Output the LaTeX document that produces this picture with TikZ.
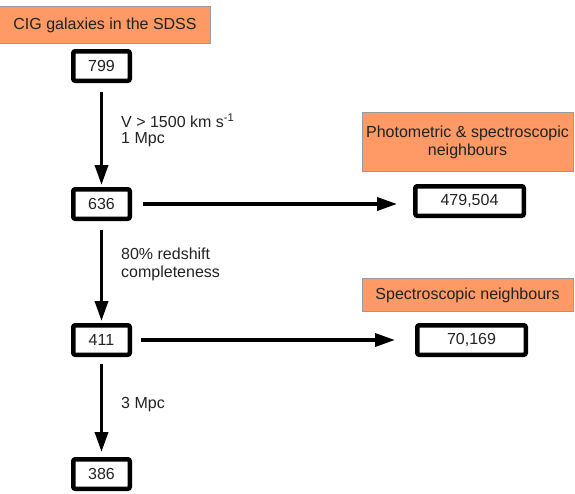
\documentclass[tikz,border=0pt]{standalone}
\usepackage{fontspec}
\setmainfont{Liberation Sans}
\usetikzlibrary{arrows.meta,positioning}
\definecolor{CigOrange}{HTML}{FF9966}
\definecolor{CigGray}{HTML}{9A9A9A}
\definecolor{CigInk}{HTML}{222222}

\begin{document}
\begin{tikzpicture}[x=1pt,y=-1pt,every node/.style={font=\fontsize{16}{18}\selectfont,text=CigInk}]
    \tikzset{count/.style={draw,rounded corners=2pt,line width=4.5pt,minimum width=56.5pt,
      minimum height=29.5pt,inner sep=0pt},
      header/.style={draw=CigGray,fill=CigOrange,line width=1pt,minimum width=211pt,align=center,inner sep=0pt},
      flow/.style={-{Triangle[length=20pt,width=13pt]},line width=3.5pt,shorten <=9pt},
      note/.style={anchor=west,align=left,inner sep=0pt}}
    \useasboundingbox (0,0) rectangle (575,493);
    \node[header,minimum height=37pt] (title) at (105,25) {CIG galaxies in the SDSS};
    \node[count,below=5pt of title,xshift=-3.5pt] (b799) {799};
    \node[count,below=104pt of b799] (b636) {636};
    \node[count,below=102pt of b636] (b411) {411};
    \node[count,below=100pt of b411] (b386) {386};
    \node[count,minimum width=108.5pt,right=281pt of b636,yshift=3pt] (p479) {479,504};
    \node[count,minimum width=108.5pt,right=283pt of b411] (s70) {70,169};
    \node[header,minimum height=59pt,above=12pt of p479,xshift=-2pt] (photo) {Photometric \& spectroscopic\\neighbours};
    \node[header,minimum height=33pt,above=11pt of s70,xshift=-4pt] (spec) {Spectroscopic neighbours};
    \node[note] (cut1) at (121,130) {V > 1500 km s\textsuperscript{-1}\\[-2pt]1 Mpc};
    \node[note] (cut2) at (121,264) {80\% redshift\\completeness};
    \node[note] (cut3) at (121,405) {3 Mpc};
    \draw[flow,shorten >=2pt] (b799) -- (b636);
    \draw[flow,shorten >=2pt] (b636) -- (b411);
    \draw[flow,shorten <=7pt,shorten >=5pt] (b411) -- (b386);
    \draw[flow,shorten <=11pt,shorten >=16pt] (b636.east) -- (b636.east -| p479.west);
    \draw[flow,shorten >=20pt] (b411.east) -- (b411.east -| s70.west);
  \end{tikzpicture}
\end{document}
